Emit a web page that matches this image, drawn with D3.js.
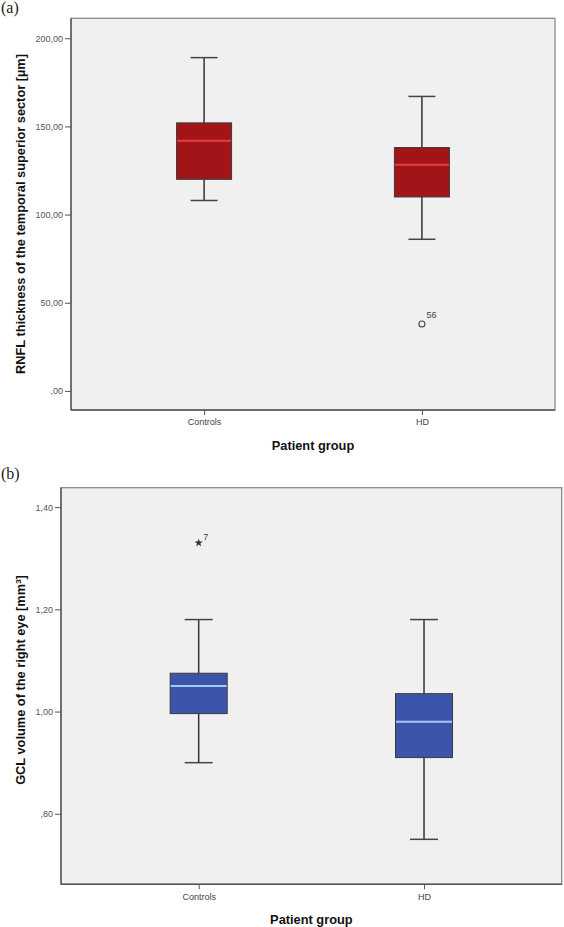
<!DOCTYPE html>
<html>
<head>
<meta charset="utf-8">
<script src="https://cdn.jsdelivr.net/npm/d3@7"></script>
<style>
  html, body { margin: 0; padding: 0; background: #ffffff; }
  svg { display: block; }
</style>
</head>
<body>
<svg id="chart" width="564" height="927"></svg>
<script>
// ---------- DATA ----------
const categories = ["Controls", "HD"];

// Panel (a): RNFL thickness of the temporal superior sector [µm]
const rnflWhiskerLow  = [108, 86];
const rnflQ1          = [120, 110];
const rnflMedian      = [141.8, 128.3];
const rnflQ3          = [152, 138];
const rnflWhiskerHigh = [189, 167];
const rnflOutlierGroup = ["HD"];
const rnflOutlierValue = [38];
const rnflOutlierLabel = ["56"];
const rnflTickValues = [0, 50, 100, 150, 200];
const rnflTickLabels = [",00", "50,00", "100,00", "150,00", "200,00"];

// Panel (b): GCL volume of the right eye [mm³]
const gclWhiskerLow  = [0.90, 0.75];
const gclQ1          = [0.996, 0.91];
const gclMedian      = [1.05, 0.98];
const gclQ3          = [1.075, 1.035];
const gclWhiskerHigh = [1.18, 1.18];
const gclOutlierGroup = ["Controls"];
const gclOutlierValue = [1.33];
const gclOutlierLabel = ["7"];
const gclTickValues = [0.8, 1.0, 1.2, 1.4];
const gclTickLabels = [",80", "1,00", "1,20", "1,40"];

// ---------- DRAW ----------
const svg = d3.select("#chart");

function panel(opts) {
  const g = svg.append("g");
  const x = d3.scalePoint().domain(categories).range([opts.left, opts.right]).padding(0.611);
  const y = d3.scaleLinear().domain(opts.domain).range([opts.bottom, opts.top]);

  // background
  g.append("rect")
    .attr("x", opts.left).attr("y", opts.top)
    .attr("width", opts.right - opts.left).attr("height", opts.bottom - opts.top)
    .attr("fill", "#f0f0f0").attr("stroke", "#8a8a8a").attr("stroke-width", 1.3);

  // y axis
  const yAxis = d3.axisLeft(y).tickValues(opts.ticks)
    .tickFormat((d, i) => opts.tickLabels[i]).tickSize(6).tickPadding(2);
  const ya = g.append("g").attr("transform", `translate(${opts.left},0)`).call(yAxis);
  ya.select(".domain").attr("d", `M0,${opts.top}V${opts.bottom}`).attr("stroke", "#555").attr("stroke-width", 1.4);
  ya.selectAll(".tick line").attr("stroke", "#555");
  ya.selectAll(".tick text").attr("fill", "#555").style("font-family", "Liberation Sans, Arial, sans-serif").style("font-size", "9px");

  // x axis
  const xAxis = d3.axisBottom(x).tickSize(5).tickPadding(4);
  const xa = g.append("g").attr("transform", `translate(0,${opts.bottom})`).call(xAxis);
  xa.select(".domain").attr("d", `M${opts.left},0H${opts.right}`).attr("stroke", "#555").attr("stroke-width", 1.4);
  xa.selectAll(".tick line").attr("stroke", "#555");
  xa.selectAll(".tick text").attr("fill", "#444").style("font-family", "Liberation Sans, Arial, sans-serif").style("font-size", "9px");

  // boxes
  const bw = opts.boxWidth, cw = opts.capWidth;
  categories.forEach((c, i) => {
    const cx = x(c);
    const gg = g.append("g");
    // whiskers
    gg.append("line").attr("x1", cx).attr("x2", cx).attr("y1", y(opts.q3[i])).attr("y2", y(opts.hi[i]))
      .attr("stroke", "#333").attr("stroke-width", 1.5);
    gg.append("line").attr("x1", cx).attr("x2", cx).attr("y1", y(opts.q1[i])).attr("y2", y(opts.lo[i]))
      .attr("stroke", "#333").attr("stroke-width", 1.5);
    gg.append("line").attr("x1", cx - cw / 2).attr("x2", cx + cw / 2).attr("y1", y(opts.hi[i])).attr("y2", y(opts.hi[i]))
      .attr("stroke", "#444").attr("stroke-width", 1.5);
    gg.append("line").attr("x1", cx - cw / 2).attr("x2", cx + cw / 2).attr("y1", y(opts.lo[i])).attr("y2", y(opts.lo[i]))
      .attr("stroke", "#444").attr("stroke-width", 1.5);
    // box
    gg.append("rect").attr("x", cx - bw / 2).attr("width", bw)
      .attr("y", y(opts.q3[i])).attr("height", y(opts.q1[i]) - y(opts.q3[i]))
      .attr("fill", opts.fill).attr("stroke", "#3a3a3a").attr("stroke-width", 1);
    // median
    gg.append("line").attr("x1", cx - bw / 2 + 0.5).attr("x2", cx + bw / 2 - 0.5)
      .attr("y1", y(opts.med[i])).attr("y2", y(opts.med[i]))
      .attr("stroke", opts.medColor).attr("stroke-width", 2);
  });

  // outliers
  opts.outGroup.forEach((c, i) => {
    const cx = x(c), cy = y(opts.outValue[i]);
    if (opts.outType === "circle") {
      g.append("circle").attr("cx", cx).attr("cy", cy).attr("r", 3)
        .attr("fill", "none").attr("stroke", "#444").attr("stroke-width", 1.1);
    } else {
      g.append("path").attr("d", d3.symbol(d3.symbolStar, 22)())
        .attr("transform", `translate(${cx},${cy})`).attr("fill", "#333");
    }
    g.append("text").attr("x", cx + opts.labelDx).attr("y", cy - opts.labelDy)
      .attr("fill", "#444").style("font-family", "Liberation Sans, Arial, sans-serif").style("font-size", "9px")
      .text(opts.outLabel[i]);
  });

  // axis titles
  g.append("text").attr("x", (opts.left + opts.right) / 2).attr("y", opts.xTitleY)
    .attr("text-anchor", "middle").attr("fill", "#111")
    .style("font-family", "Liberation Sans, Arial, sans-serif").style("font-size", "12.8px").style("font-weight", "bold")
    .text("Patient group");
  g.append("text").attr("transform", `translate(${opts.yTitleX},${opts.yTitleCY}) rotate(-90)`)
    .attr("text-anchor", "middle").attr("fill", "#111")
    .style("font-family", "Liberation Sans, Arial, sans-serif").style("font-size", "12.8px").style("font-weight", "bold")
    .html(opts.yTitle);

  // panel letter
  g.append("text").attr("x", 1).attr("y", opts.letterY).attr("fill", "#222")
    .style("font-family", "Liberation Serif, Times New Roman, serif").style("font-size", "16px")
    .text(opts.letter);
}

panel({
  left: 71, right: 555, top: 18.3, bottom: 410,
  domain: [-10.8, 211.3],
  ticks: rnflTickValues, tickLabels: rnflTickLabels,
  lo: rnflWhiskerLow, q1: rnflQ1, med: rnflMedian, q3: rnflQ3, hi: rnflWhiskerHigh,
  fill: "#a11418", medColor: "#ec3c3c", boxWidth: 55, capWidth: 27,
  outGroup: rnflOutlierGroup, outValue: rnflOutlierValue, outLabel: rnflOutlierLabel,
  outType: "circle", labelDx: 4.5, labelDy: 6,
  xTitleY: 449.5, yTitleX: 24.5, yTitleCY: 214,
  yTitle: "RNFL thickness of the temporal superior sector [µm]",
  letter: "(a)", letterY: 13
});

panel({
  left: 61, right: 561.7, top: 487.7, bottom: 884.3,
  domain: [0.662, 1.438],
  ticks: gclTickValues, tickLabels: gclTickLabels,
  lo: gclWhiskerLow, q1: gclQ1, med: gclMedian, q3: gclQ3, hi: gclWhiskerHigh,
  fill: "#3c55aa", medColor: "#a4cdf6", boxWidth: 57, capWidth: 28,
  outGroup: gclOutlierGroup, outValue: gclOutlierValue, outLabel: gclOutlierLabel,
  outType: "star", labelDx: 4.5, labelDy: 3,
  xTitleY: 923.5, yTitleX: 24.5, yTitleCY: 680,
  yTitle: "GCL volume of the right eye [mm<tspan dy='-4' font-size='8px'>3</tspan><tspan dy='4'>]</tspan>",
  letter: "(b)", letterY: 479
});
</script>
</body>
</html>
